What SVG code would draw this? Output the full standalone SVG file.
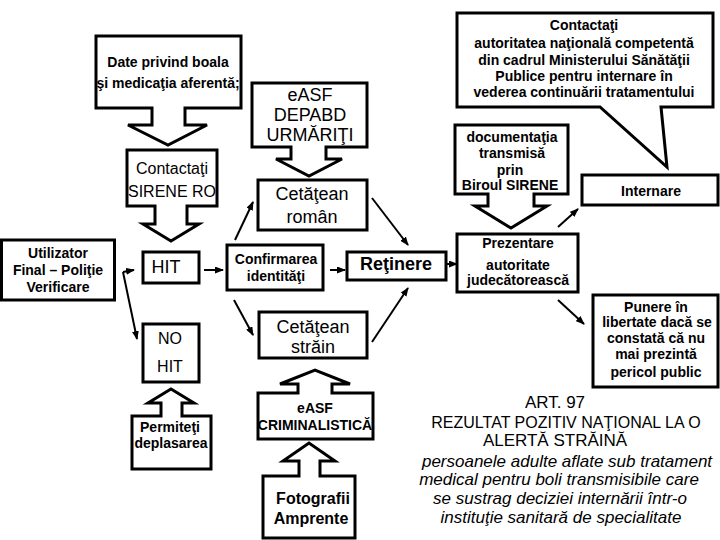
<svg xmlns="http://www.w3.org/2000/svg" width="720" height="540" viewBox="0 0 720 540">
<defs>
<marker id="ah" markerWidth="9" markerHeight="7" refX="8" refY="3.5" orient="auto" markerUnits="userSpaceOnUse">
<path d="M0,0 L9,3.5 L0,7 Z" fill="#000"/>
</marker>
<style>
.sh{fill:#fff;stroke:#000;stroke-width:3;stroke-linejoin:miter}
.c{fill:none;stroke:#000;stroke-width:2;marker-end:url(#ah)}
text{font-family:"Liberation Sans",Arial,sans-serif;fill:#000;text-anchor:middle;dominant-baseline:central}
.b14{font-size:14px;font-weight:bold}
.r18{font-size:18px}
.r16{font-size:16px}
.r17{font-size:17px}
.it{font-size:17px;font-style:italic}
</style>
</defs>
<rect width="720" height="540" fill="#fff"/>

<g id="connectors">
<path class="c" d="M123,272 L134,270"/>
<path class="c" d="M123,272 L137,339"/>
<path class="c" d="M204,270 L223,270"/>
<path class="c" d="M235,240 L253,202"/>
<path class="c" d="M234,300 L253,335"/>
<path class="c" d="M372,198 L408,245"/>
<path class="c" d="M330,270 L345,270"/>
<path class="c" d="M372,342 L408,288"/>
<path class="c" d="M446,264 L457,264"/>
<path class="c" d="M558,227 L578,209"/>
<path class="c" d="M558,300 L584,324"/>
</g>

<g id="date-privind">
<path class="sh" d="M96,36 H241 V108 H185 V125 H207 L168,145 L128,125 H152 V108 H96 Z"/>
<text class="b14" x="168" y="62">Date privind boala</text>
<text class="b14" x="168" y="83">şi medicaţia aferentă;</text>
</g>

<g id="contactati-sirene">
<path class="sh" d="M127,150 H217 V206 H187 V224 H199 L171,241 L143,224 H155 V206 H127 Z"/>
<text class="r16" x="172" y="168">Contactaţi</text>
<text class="r16" x="172" y="191">SIRENE RO</text>
</g>

<g id="utilizator">
<rect class="sh" x="1.5" y="240" width="113" height="60"/>
<text class="b14" x="58" y="253">Utilizator</text>
<text class="b14" x="58" y="270">Final – Poliţie</text>
<text class="b14" x="58" y="287">Verificare</text>
</g>

<g id="hit">
<rect class="sh" x="143" y="252" width="56" height="31"/>
<text class="r18" x="166" y="267">HIT</text>
</g>

<g id="no-hit">
<rect class="sh" x="143" y="324" width="56" height="58"/>
<text class="r16" x="170" y="338" fill="#222">NO</text>
<text class="r16" x="170" y="366" fill="#222">HIT</text>
</g>

<g id="permiteti">
<path class="sh" d="M132,416 H161 V403 H148 L171,389 L194,403 H182 V416 H211 V469 H132 Z"/>
<text class="b14" x="170" y="427">Permiteţi</text>
<text class="b14" x="171" y="443">deplasarea</text>
</g>

<g id="easf-depabd">
<path class="sh" d="M252,83 H367 V147 H326 V159 H342 L309,176 L276,159 H291 V147 H252 Z"/>
<text class="r18" x="310" y="95">eASF</text>
<text class="r18" x="310" y="115">DEPABD</text>
<text class="r18" x="310" y="135">URMĂRIŢI</text>
</g>

<g id="cetatean-roman">
<rect class="sh" x="258" y="180" width="109" height="50"/>
<text class="r18" x="312" y="194">Cetăţean</text>
<text class="r18" x="312" y="217">român</text>
</g>

<g id="confirmarea">
<rect class="sh" x="227" y="245" width="96" height="45"/>
<text class="b14" x="276" y="259">Confirmarea</text>
<text class="b14" x="276" y="276">identităţi</text>
</g>

<g id="cetatean-strain">
<rect class="sh" x="259" y="312" width="108" height="46"/>
<text class="r18" x="313" y="327">Cetăţean</text>
<text class="r18" x="313" y="347">străin</text>
</g>

<g id="easf-criminalistica">
<path class="sh" d="M258,393 H298 V384 H280 L315,370 L350,384 H332 V393 H373 V439 H258 Z"/>
<text class="b14" x="315" y="408">eASF</text>
<text class="b14" x="315" y="425">CRIMINALISTICĂ</text>
</g>

<g id="fotografii">
<path class="sh" d="M263,476 H299 V461 H283 L309,443 L335,461 H320 V476 H355 V538 H263 Z"/>
<text x="313" y="498" style="font-size:16px;font-weight:bold">Fotografii</text>
<text x="311" y="518" style="font-size:16px;font-weight:bold">Amprente</text>
</g>

<g id="retinere">
<rect class="sh" x="347" y="252" width="99" height="28"/>
<text x="396" y="264" style="font-size:18px;font-weight:bold">Reţinere</text>
</g>

<g id="contactati-autoritatea">
<path class="sh" d="M457,13 H713 V107 H661 L667,167 L600,107 H457 Z"/>
<text class="b14" x="584" y="25">Contactaţi</text>
<text class="b14" x="584" y="43">autoritatea naţională competentă</text>
<text class="b14" x="584" y="60">din cadrul Ministerului Sănătăţii</text>
<text class="b14" x="584" y="76">Publice pentru internare în</text>
<text class="b14" x="584" y="92">vederea continuării tratamentului</text>
</g>

<g id="documentatia">
<path class="sh" d="M455,125 H568 V194 H534 V206 H547 L511,228 L475,206 H488 V194 H455 Z"/>
<text class="b14" x="512" y="137">documentaţia</text>
<text class="b14" x="512" y="153">transmisă</text>
<text class="b14" x="510" y="170">prin</text>
<text class="b14" x="510" y="185">Biroul SIRENE</text>
</g>

<g id="internare">
<rect class="sh" x="582" y="175" width="136" height="30"/>
<text class="b14" x="651" y="191">Internare</text>
</g>

<g id="prezentare">
<rect class="sh" x="457" y="234" width="121" height="58"/>
<text class="b14" x="518" y="243">Prezentare</text>
<text class="b14" x="518" y="265">autoritate</text>
<text class="b14" x="518" y="280">judecătorească</text>
</g>

<g id="punere">
<rect class="sh" x="593" y="295" width="125" height="92"/>
<text class="b14" x="656" y="307">Punere în</text>
<text class="b14" x="657" y="322">libertate dacă se</text>
<text class="b14" x="656" y="338">constată că nu</text>
<text class="b14" x="656" y="354">mai prezintă</text>
<text class="b14" x="656" y="372">pericol public</text>
</g>

<g id="art97">
<text class="r17" x="555" y="402">ART. 97</text>
<text class="r16" x="566" y="422">REZULTAT POZITIV NAŢIONAL LA O</text>
<text class="r17" x="555" y="440">ALERTĂ STRĂINĂ</text>
<text class="it" x="567" y="461">persoanele adulte aflate sub tratament</text>
<text class="it" x="559" y="479">medical pentru boli transmisibile care</text>
<text class="it" x="560" y="498">se sustrag deciziei internării într-o</text>
<text class="it" x="561" y="517">instituţie sanitară de specialitate</text>
</g>
</svg>
